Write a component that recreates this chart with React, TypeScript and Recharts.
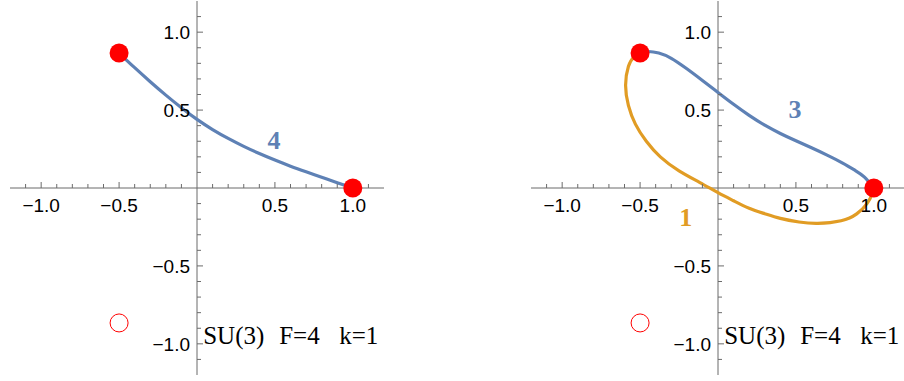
import { ComposedChart, Line, Scatter, XAxis, YAxis, ReferenceLine } from 'recharts';

const BLUE = '#5e81b5';
const ORANGE = '#e19c24';
const AXIS = '#6b6b6b';

// tick values
const majorTicks = [-1, -0.5, 0.5, 1];
const majorLabels = ['−1.0', '−0.5', '0.5', '1.0'];
const minorTicks = [-1.1, -0.9, -0.8, -0.7, -0.6, -0.4, -0.3, -0.2, -0.1, 0.1, 0.2, 0.3, 0.4, 0.6, 0.7, 0.8, 0.9, 1.1];

// left panel curve
const curve4 = [
  { x: -0.5, y: 0.866 }, { x: -0.4, y: 0.772 }, { x: -0.3, y: 0.682 }, { x: -0.2, y: 0.596 },
  { x: -0.1, y: 0.515 }, { x: 0, y: 0.44 }, { x: 0.1, y: 0.375 }, { x: 0.2, y: 0.318 },
  { x: 0.3, y: 0.267 }, { x: 0.4, y: 0.221 }, { x: 0.5, y: 0.179 }, { x: 0.6, y: 0.14 },
  { x: 0.7, y: 0.104 }, { x: 0.8, y: 0.069 }, { x: 0.9, y: 0.034 }, { x: 1, y: 0 },
];

// right panel curves
const curve3 = [
  { x: -0.5, y: 0.866 }, { x: -0.45, y: 0.876 }, { x: -0.38, y: 0.866 }, { x: -0.3, y: 0.832 },
  { x: -0.2, y: 0.765 }, { x: -0.1, y: 0.69 }, { x: 0, y: 0.613 }, { x: 0.1, y: 0.537 },
  { x: 0.2, y: 0.466 }, { x: 0.3, y: 0.403 }, { x: 0.4, y: 0.35 }, { x: 0.5, y: 0.303 },
  { x: 0.6, y: 0.258 }, { x: 0.7, y: 0.211 }, { x: 0.8, y: 0.16 }, { x: 0.88, y: 0.113 },
  { x: 0.94, y: 0.07 }, { x: 1, y: 0 },
];
const curve1 = [
  { x: 1, y: 0 }, { x: 0.99, y: -0.037 }, { x: 0.956, y: -0.1 }, { x: 0.89, y: -0.166 },
  { x: 0.79, y: -0.21 }, { x: 0.64, y: -0.227 }, { x: 0.52, y: -0.218 }, { x: 0.4, y: -0.195 },
  { x: 0.3, y: -0.165 }, { x: 0.2, y: -0.13 }, { x: 0.1, y: -0.082 }, { x: 0, y: -0.03 },
  { x: -0.116, y: 0.035 }, { x: -0.25, y: 0.11 }, { x: -0.37, y: 0.2 }, { x: -0.46, y: 0.3 },
  { x: -0.53, y: 0.41 }, { x: -0.575, y: 0.53 }, { x: -0.593, y: 0.66 }, { x: -0.575, y: 0.78 },
  { x: -0.54, y: 0.84 }, { x: -0.5, y: 0.866 },
];

const filledPoints = [{ x: -0.5, y: 0.866 }, { x: 1, y: 0 }];
const openPoints = [{ x: -0.5, y: -0.866 }];

const leftLabels = [{ x: 0.494, y: 0.308, text: '4', color: BLUE }];
const rightLabels = [
  { x: 0.494, y: 0.51, text: '3', color: BLUE },
  { x: -0.207, y: -0.184, text: '1', color: ORANGE },
];
const caption = [{ x: 0.04, y: -1.0, parts: ['SU(3)', 'F=4', 'k=1'] }];

const xTickData = [
  ...majorTicks.map((v, i) => ({ x: v, y: 0, major: true, label: majorLabels[i] })),
  ...minorTicks.map((v) => ({ x: v, y: 0, major: false, label: '' })),
];
const yTickData = [
  ...majorTicks.map((v, i) => ({ x: 0, y: v, major: true, label: majorLabels[i] })),
  ...minorTicks.map((v) => ({ x: 0, y: v, major: false, label: '' })),
];

const sans = '"Liberation Sans", Arial, sans-serif';
const serif = '"Liberation Serif", "Times New Roman", serif';

function XTick(p: any) {
  const { cx, cy, payload } = p;
  return (
    <g>
      <line x1={cx} x2={cx} y1={cy} y2={cy - (payload.major ? 6 : 4)} stroke={AXIS} strokeWidth={1} />
      {payload.label && (
        <text x={cx} y={cy + 24} textAnchor="middle" fontSize={19} fontFamily={sans} fill="#000">
          {payload.label}
        </text>
      )}
    </g>
  );
}

function YTick(p: any) {
  const { cx, cy, payload } = p;
  return (
    <g>
      <line x1={cx} x2={cx + (payload.major ? 6 : 4)} y1={cy} y2={cy} stroke={AXIS} strokeWidth={1} />
      {payload.label && (
        <text x={cx - 7} y={cy + 7} textAnchor="end" fontSize={19} fontFamily={sans} fill="#000">
          {payload.label}
        </text>
      )}
    </g>
  );
}

function Caption(p: any) {
  const { cx, cy, payload } = p;
  const offsets = [0, 76, 136];
  return (
    <text y={cy} fontSize={25} fontFamily={serif} fill="#000">
      {payload.parts.map((s: string, i: number) => (
        <tspan key={i} x={cx + offsets[i]}>
          {s}
        </tspan>
      ))}
    </text>
  );
}

function Panel({ curves, labels }: { curves: { data: { x: number; y: number }[]; color: string }[]; labels: any[] }) {
  return (
    <ComposedChart width={395} height={381} margin={{ top: 1, right: 11, bottom: 6, left: 10 }}>
      <XAxis type="number" dataKey="x" domain={[-1.2, 1.2]} allowDataOverflow hide />
      <YAxis type="number" dataKey="y" domain={[-1.2, 1.2]} allowDataOverflow hide />
      <ReferenceLine x={0} stroke={AXIS} strokeWidth={1} />
      <ReferenceLine y={0} stroke={AXIS} strokeWidth={1} />
      <Scatter data={xTickData} isAnimationActive={false} shape={XTick} />
      <Scatter data={yTickData} isAnimationActive={false} shape={YTick} />
      {curves.map((c, i) => (
        <Line
          key={i}
          data={c.data}
          dataKey="y"
          type="natural"
          stroke={c.color}
          strokeWidth={3.2}
          dot={false}
          activeDot={false}
          isAnimationActive={false}
        />
      ))}
      <Scatter
        data={filledPoints}
        isAnimationActive={false}
        shape={(p: any) => <circle cx={p.cx} cy={p.cy} r={9.5} fill="#ff0000" />}
      />
      <Scatter
        data={openPoints}
        isAnimationActive={false}
        shape={(p: any) => <circle cx={p.cx} cy={p.cy} r={9} fill="none" stroke="#ff0000" strokeWidth={1} />}
      />
      <Scatter
        data={labels}
        isAnimationActive={false}
        shape={(p: any) => (
          <text x={p.cx} y={p.cy + 9} textAnchor="middle" fontSize={26} fontWeight="bold" fontFamily={serif} fill={p.payload.color}>
            {p.payload.text}
          </text>
        )}
      />
      <Scatter data={caption} isAnimationActive={false} shape={Caption} />
    </ComposedChart>
  );
}

export default function App() {
  return (
    <div style={{ position: 'absolute', left: 0, top: 0, width: 904, height: 381, overflow: 'hidden', background: '#fff' }}>
      <div style={{ position: 'absolute', left: 0, top: 0 }}>
        <Panel curves={[{ data: curve4, color: BLUE }]} labels={leftLabels} />
      </div>
      <div style={{ position: 'absolute', left: 521, top: 0 }}>
        <Panel
          curves={[
            { data: curve1, color: ORANGE },
            { data: curve3, color: BLUE },
          ]}
          labels={rightLabels}
        />
      </div>
    </div>
  );
}
